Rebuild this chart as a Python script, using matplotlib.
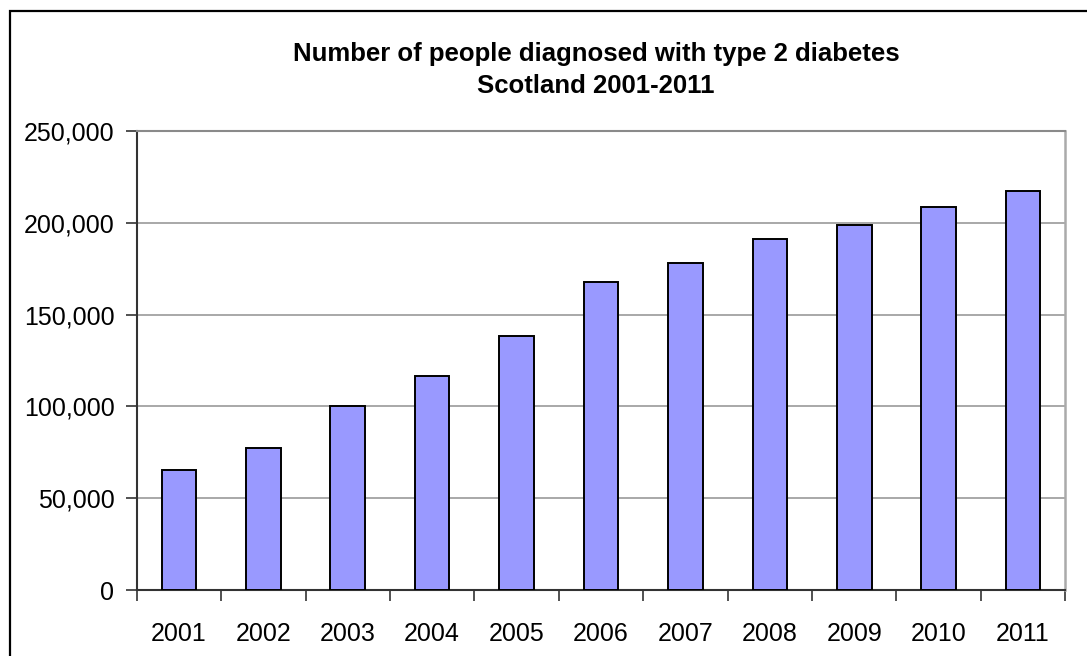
import matplotlib
matplotlib.use("Agg")
import matplotlib.pyplot as plt
from matplotlib.ticker import FuncFormatter, FixedLocator, NullFormatter
from matplotlib.patches import Rectangle

years = ["2001", "2002", "2003", "2004", "2005", "2006",
         "2007", "2008", "2009", "2010", "2011"]
diagnosed = [65400, 77200, 100200, 116400, 138100, 167500,
             178300, 191200, 199000, 208600, 217400]
y_ticks = [0, 50000, 100000, 150000, 200000, 250000]

title_lines = ["Number of people diagnosed with type 2 diabetes",
               "Scotland 2001-2011"]

W, H = 1087, 656
fig = plt.figure(figsize=(W / 100, H / 100), dpi=100)
fig.patch.set_facecolor("white")

font = "Liberation Sans"

# plot area in pixel coordinates
left, right, top, bottom = 136.7, 1065.3, 131, 590
ax = fig.add_axes([left / W, 1 - bottom / H, (right - left) / W, (bottom - top) / H])

x = list(range(len(years)))
ax.bar(x, diagnosed, width=0.41, color="#9999FF", edgecolor="black",
       linewidth=1.4, zorder=3)

ax.set_xlim(-0.5, len(years) - 0.5)
ax.set_ylim(0, 250000)

ax.yaxis.set_major_locator(FixedLocator(y_ticks))
ax.yaxis.set_major_formatter(FuncFormatter(lambda v, p: f"{int(v):,}"))
ax.grid(axis="y", color="#9a9a9a", linewidth=1.2, zorder=0)

# category labels centred under bars, tick marks at category boundaries
ax.set_xticks([i - 0.5 for i in range(len(years) + 1)])
ax.xaxis.set_major_formatter(NullFormatter())
ax.set_xticks(x, minor=True)
ax.set_xticklabels(years, minor=True)
ax.tick_params(axis="x", which="minor", length=0, pad=22.8,
               labelsize=18)
ax.tick_params(axis="x", which="major", length=8, width=1.2,
               color="#333333", direction="out")
ax.tick_params(axis="y", length=8, width=1.2, color="#333333",
               pad=8, labelsize=18)
for lab in ax.get_xticklabels(minor=True) + ax.get_yticklabels():
    lab.set_fontfamily(font)
    lab.set_color("black")

for side in ("left", "bottom"):
    ax.spines[side].set_color("#333333")
    ax.spines[side].set_linewidth(1.5)
ax.spines["top"].set_color("#8a8a8a")
ax.spines["top"].set_linewidth(1.5)
ax.spines["right"].set_color("#aaaaaa")
ax.spines["right"].set_linewidth(1.8)

fig.text(596 / W, 1 - 61 / H, title_lines[0], ha="center", va="baseline",
         fontsize=18.5, fontweight="bold", fontfamily=font)
fig.text(596 / W, 1 - 93 / H, title_lines[1], ha="center", va="baseline",
         fontsize=18.5, fontweight="bold", fontfamily=font)

# chart frame, running off the right and bottom edges
frame = Rectangle((10 / W, -0.2), 1.3, 1.2 - 11 / H, transform=fig.transFigure,
                  fill=False, edgecolor="black", linewidth=1.6, zorder=10)
fig.patches.append(frame)

fig.savefig("out.png", dpi=100, facecolor="white")
